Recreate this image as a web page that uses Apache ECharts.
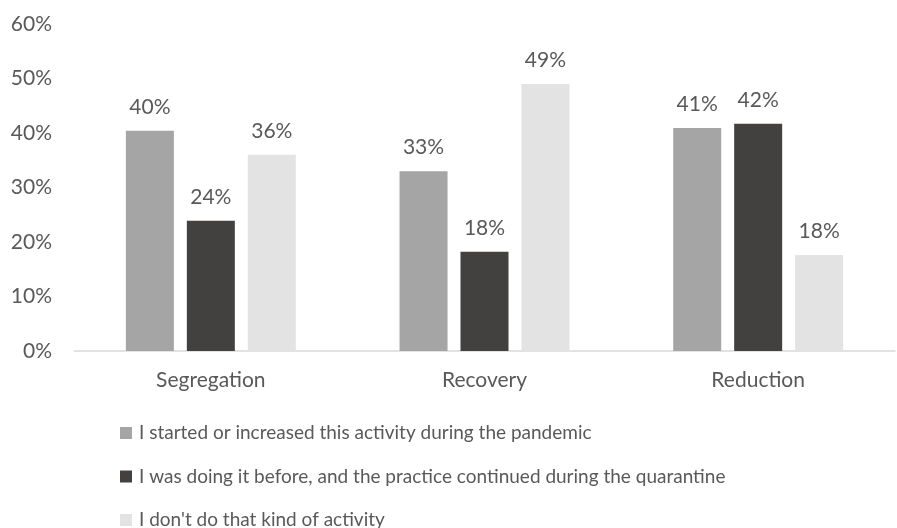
<!DOCTYPE html>
<html>
<head>
<meta charset="utf-8">
<script src="https://cdn.jsdelivr.net/npm/echarts@6/dist/echarts.min.js"></script>
<style>
  html, body { margin: 0; padding: 0; background: #fff; }
  #chart { width: 897px; height: 528px; }
</style>
</head>
<body>
<div id="chart"></div>
<script>
// Activity categories on the x axis
const categories = ['Segregation', 'Recovery', 'Reduction'];

// Share of respondents per answer (percent)
const startedDuringPandemic = [40.4, 33.0, 40.9];
const continuedFromBefore = [23.9, 18.2, 41.7];
const notDoingActivity = [36.0, 49.0, 17.6];

const seriesNames = [
  'I started or increased this activity during the pandemic',
  'I was doing it before, and the practice continued during the quarantine',
  "I don't do that kind of activity"
];
const seriesColors = ['#A5A5A5', '#43413F', '#E3E3E3'];

const FONT = 'Lato, "Open Sans", sans-serif';
const TEXT = '#595959';

function barSeries(name, data, color) {
  return {
    name: name,
    type: 'bar',
    data: data,
    barWidth: 48,
    barGap: '27%',
    itemStyle: { color: color },
    label: {
      show: true,
      position: 'top',
      distance: 13,
      color: TEXT,
      fontFamily: FONT,
      fontSize: 21,
      formatter: p => Math.round(p.value) + '%'
    }
  };
}

const chart = echarts.init(document.getElementById('chart'));
chart.setOption({
  animation: false,
  backgroundColor: '#fff',
  grid: { left: 74, right: 2, top: 24, bottom: 177 },
  legend: {
    orient: 'vertical',
    left: 115,
    top: 418,
    height: 110,
    itemWidth: 12,
    itemHeight: 12,
    itemGap: 23.5,
    icon: 'rect',
    data: seriesNames,
    textStyle: {
      color: TEXT, fontFamily: FONT, fontSize: 19, lineHeight: 20,
      padding: [0, 0, 0, 2]
    }
  },
  xAxis: {
    type: 'category',
    data: categories,
    axisLine: { lineStyle: { color: '#D9D9D9', width: 1.5 } },
    axisTick: { show: false },
    axisLabel: { color: TEXT, fontFamily: FONT, fontSize: 21, margin: 19 }
  },
  yAxis: {
    type: 'value',
    min: 0,
    max: 60,
    interval: 10,
    splitLine: { show: false },
    axisLine: { show: false },
    axisTick: { show: false },
    axisLabel: {
      color: TEXT,
      fontFamily: FONT,
      fontSize: 21,
      margin: 22,
      formatter: v => v + '%'
    }
  },
  series: [
    barSeries(seriesNames[0], startedDuringPandemic, seriesColors[0]),
    barSeries(seriesNames[1], continuedFromBefore, seriesColors[1]),
    barSeries(seriesNames[2], notDoingActivity, seriesColors[2])
  ]
});
</script>
</body>
</html>
